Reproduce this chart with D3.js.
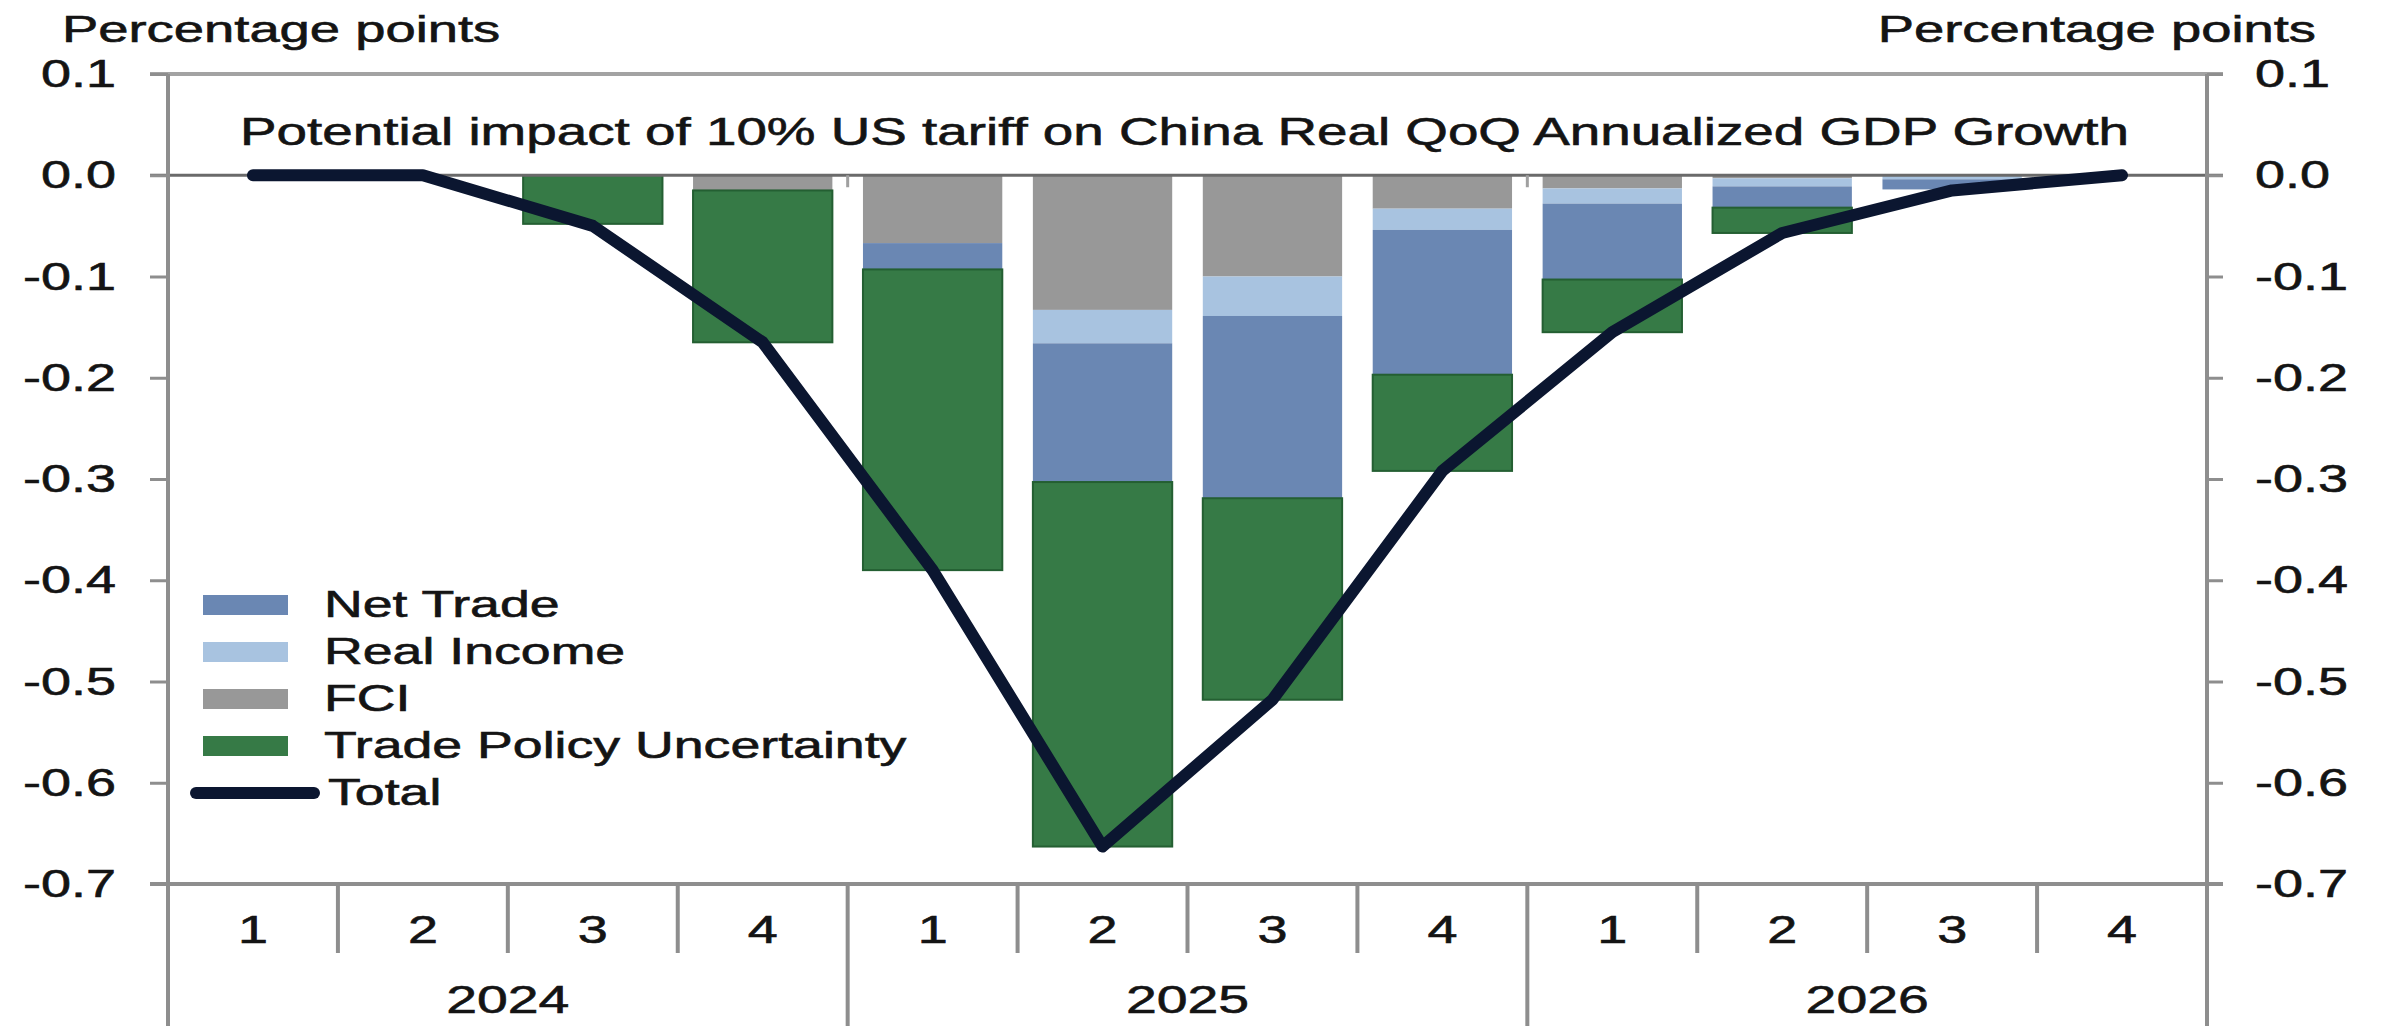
<!DOCTYPE html>
<html>
<head>
<meta charset="utf-8">
<script src="https://cdn.jsdelivr.net/npm/d3@7"></script>
<style>
  html, body { margin: 0; padding: 0; background: #fff; }
  svg { display: block; }
  text { font-family: "Liberation Sans", Arial, sans-serif; fill: #141414; stroke: #141414; stroke-width: 0.6px; }
</style>
</head>
<body>
<svg id="chart" width="2382" height="1030"></svg>
<script>
// Quarterly categories and year groups
const quarters = ["1", "2", "3", "4", "1", "2", "3", "4", "1", "2", "3", "4"];
const years = ["2024", "2025", "2026"];

// Contributions to China real QoQ annualized GDP growth (percentage points)
const netTrade   = [0, 0, 0,      0,      -0.026, -0.137, -0.180, -0.143, -0.075, -0.021, -0.010, 0];
const realIncome = [0, 0, 0,      0,       0,     -0.033, -0.039, -0.021, -0.015, -0.008, -0.004, 0];
const fci        = [0, 0, 0,     -0.015,  -0.067, -0.133, -0.100, -0.033, -0.013, -0.003,  0,     0];
const tradePolicyUncertainty =
                   [0, 0, -0.048, -0.150, -0.297, -0.360, -0.199, -0.095, -0.052, -0.025,  0,     0];
const total      = [0, 0, -0.050, -0.165, -0.390, -0.663, -0.518, -0.292, -0.155, -0.057, -0.015, 0];

// Axis ticks
const yTickValues = [0.1, 0.0, -0.1, -0.2, -0.3, -0.4, -0.5, -0.6, -0.7];
const yTickLabels = ["0.1", "0.0", "-0.1", "-0.2", "-0.3", "-0.4", "-0.5", "-0.6", "-0.7"];

const seriesNames = ["Net Trade", "Real Income", "FCI", "Trade Policy Uncertainty"];
const colors = {
  "Net Trade": "#6a87b3",
  "Real Income": "#a8c3e0",
  "FCI": "#989898",
  "Trade Policy Uncertainty": "#367a46"
};
const lineColor = "#0b1630";
const axisColor = "#8e8e8e";

const svg = d3.select("#chart");
const W = 2382, H = 1030;
const plotLeft = 168, plotRight = 2207, plotTop = 74, plotBottom = 884;
const SX = 1.42; // horizontal stretch of lettering

svg.append("rect").attr("width", W).attr("height", H).attr("fill", "#fff");

const idx = d3.range(quarters.length);
const x = d3.scaleBand().domain(idx).range([plotLeft, plotRight]).paddingInner(0.18).paddingOuter(0.09);
const step = x.step();
const y = d3.scaleLinear().domain([-0.7, 0.1]).range([plotBottom, plotTop]);

function label(g, txt, px, py, size, anchor, sx) {
  return g.append("text")
    .attr("transform", `translate(${px},${py}) scale(${sx || SX},1)`)
    .attr("text-anchor", anchor || "start")
    .attr("font-size", size)
    .text(txt);
}

// Stacked bars: FCI nearest zero, then Real Income, Net Trade, Trade Policy Uncertainty
const rows = idx.map(i => ({
  "FCI": fci[i],
  "Real Income": realIncome[i],
  "Net Trade": netTrade[i],
  "Trade Policy Uncertainty": tradePolicyUncertainty[i]
}));
const stackKeys = ["FCI", "Real Income", "Net Trade", "Trade Policy Uncertainty"];
const stacked = d3.stack().keys(stackKeys).offset(d3.stackOffsetDiverging)(rows);

const barG = svg.append("g");
stacked.forEach(layer => {
  barG.append("g")
    .attr("fill", colors[layer.key])
    .attr("stroke", layer.key === "Trade Policy Uncertainty" ? "#245f32" : "none")
    .attr("stroke-width", 2)
    .selectAll("rect")
    .data(layer.map((d, i) => ({ d, i })).filter(o => o.d[1] - o.d[0] !== 0))
    .join("rect")
    .attr("x", o => x(o.i))
    .attr("width", x.bandwidth())
    .attr("y", o => y(Math.max(o.d[0], o.d[1])))
    .attr("height", o => Math.abs(y(o.d[0]) - y(o.d[1])));
});

// Frame: top line at 0.1, zero line
svg.append("line").attr("x1", plotLeft - 18).attr("x2", plotRight + 16)
  .attr("y1", y(0.1)).attr("y2", y(0.1))
  .attr("stroke", "#a3a3a3").attr("stroke-width", 4);
svg.append("line").attr("x1", plotLeft - 18).attr("x2", plotRight + 16)
  .attr("y1", y(0)).attr("y2", y(0))
  .attr("stroke", "#6a6a6a").attr("stroke-width", 3);

// Small marks at year boundaries on the zero line
const yearBounds = [4, 8].map(k => plotLeft + k * step);
yearBounds.forEach(bx => {
  svg.append("line").attr("x1", bx).attr("x2", bx)
    .attr("y1", y(0)).attr("y2", y(0) + 12)
    .attr("stroke", "#a0a0a0").attr("stroke-width", 3);
});

// Left and right value axes
const yAxisL = d3.axisLeft(y).tickValues(yTickValues).tickSize(18).tickFormat("").tickSizeOuter(0);
const yAxisR = d3.axisRight(y).tickValues(yTickValues).tickSize(16).tickFormat("").tickSizeOuter(0);
const gL = svg.append("g").attr("transform", `translate(${plotLeft},0)`).call(yAxisL);
const gR = svg.append("g").attr("transform", `translate(${plotRight},0)`).call(yAxisR);
[gL, gR].forEach(g => {
  g.select(".domain").remove();
  g.selectAll(".tick line").attr("stroke", axisColor).attr("stroke-width", 3);
});
svg.append("line").attr("x1", plotLeft).attr("x2", plotLeft).attr("y1", plotTop).attr("y2", H - 4)
  .attr("stroke", axisColor).attr("stroke-width", 4);
svg.append("line").attr("x1", plotRight).attr("x2", plotRight).attr("y1", plotTop).attr("y2", H - 4)
  .attr("stroke", axisColor).attr("stroke-width", 4);

const txt = svg.append("g");
yTickValues.forEach((v, k) => {
  label(txt, yTickLabels[k], plotLeft - 52, y(v) + 13, 38, "end");
  label(txt, yTickLabels[k], plotRight + 48, y(v) + 13, 38, "start");
});

// Category axis at the bottom
svg.append("line").attr("x1", plotLeft - 18).attr("x2", plotRight + 16)
  .attr("y1", plotBottom).attr("y2", plotBottom)
  .attr("stroke", axisColor).attr("stroke-width", 4);
idx.forEach(i => {
  if (i > 0 && i % 4 !== 0) {
    const bx = plotLeft + i * step;
    svg.append("line").attr("x1", bx).attr("x2", bx).attr("y1", plotBottom).attr("y2", plotBottom + 69)
      .attr("stroke", axisColor).attr("stroke-width", 4);
  }
  label(txt, quarters[i], x(i) + x.bandwidth() / 2, 943, 38, "middle");
});
yearBounds.forEach(bx => {
  svg.append("line").attr("x1", bx).attr("x2", bx).attr("y1", plotBottom).attr("y2", H - 4)
    .attr("stroke", axisColor).attr("stroke-width", 4);
});
years.forEach((yr, k) => {
  const cx = plotLeft + (k * 4 + 2) * step;
  label(txt, yr, cx, 1013, 39, "middle");
});

// Total line
const line = d3.line().x((d, i) => x(i) + x.bandwidth() / 2).y(d => y(d));
svg.append("path").datum(total).attr("d", line)
  .attr("fill", "none").attr("stroke", lineColor).attr("stroke-width", 12)
  .attr("stroke-linejoin", "round").attr("stroke-linecap", "round");

// Unit labels and title
label(txt, "Percentage points", 62, 42, 37, "start", 1.47);
label(txt, "Percentage points", 2316, 42, 37, "end", 1.47);
label(txt, "Potential impact of 10% US tariff on China Real QoQ Annualized GDP Growth",
  (plotLeft + plotRight) / 2 - 3, 145, 39, "middle", 1.405);

// Legend
const legend = svg.append("g");
const legendY0 = 605, legendDy = 47;
seriesNames.forEach((name, k) => {
  const cy = legendY0 + k * legendDy;
  legend.append("rect").attr("x", 203).attr("y", cy - 10).attr("width", 85).attr("height", 20)
    .attr("fill", colors[name]);
  label(legend, name, 324, cy + 12, 37, "start", 1.45);
});
const ty = legendY0 + 4 * legendDy;
legend.append("line").attr("x1", 196).attr("x2", 314).attr("y1", ty).attr("y2", ty)
  .attr("stroke", lineColor).attr("stroke-width", 12).attr("stroke-linecap", "round");
label(legend, "Total", 328, ty + 12, 37, "start", 1.45);
</script>
</body>
</html>
